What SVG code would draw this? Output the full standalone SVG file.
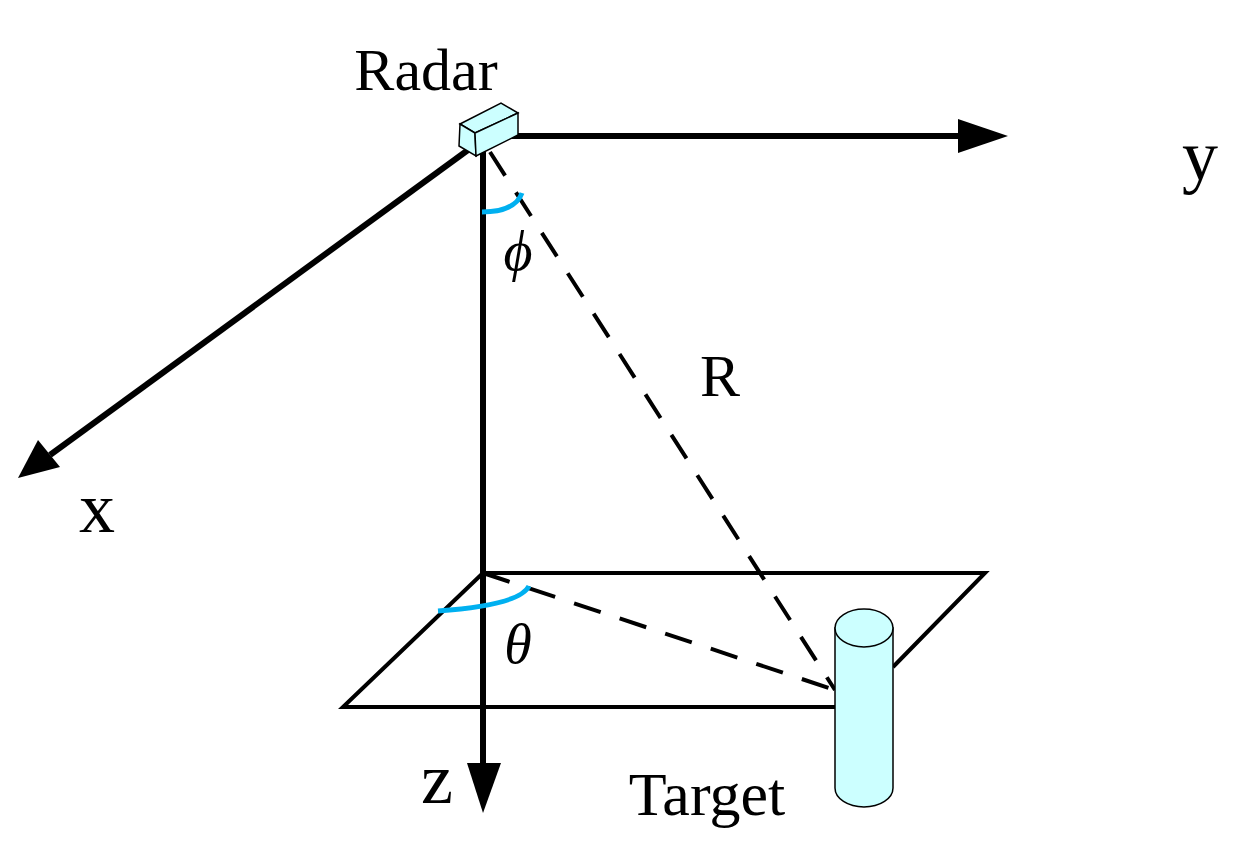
<svg xmlns="http://www.w3.org/2000/svg" width="1245" height="852" viewBox="0 0 1245 852">
<style>
.ax{stroke:#000;stroke-width:6;fill:none}
.ln{stroke:#000;stroke-width:4;fill:none}
.ds{stroke:#000;stroke-width:4;fill:none;stroke-dasharray:28,20}
.arc{stroke:#00b0f0;stroke-width:5;fill:none}
.obj{fill:#ccffff;stroke:#000;stroke-width:1.5}
text{font-family:"Liberation Serif",serif;fill:#000}
</style>
<rect width="1245" height="852" fill="#fff"/>
<g id="plane"><path class="ln" d="M483,573 L985,573 L893,667 M483,573 L343,707 L838,707"/></g>
<g id="connectors">
<line class="ax" x1="483" y1="150" x2="483" y2="765"/>
<polygon points="467,763 501,763 483,813"/>
<line class="ax" x1="505" y1="136" x2="960" y2="136"/>
<polygon points="958,119 958,153 1008,136"/>
<line class="ax" x1="468" y1="150" x2="50" y2="455"/>
<polygon points="38,440 60,467 18,478"/>
<line class="ds" x1="490" y1="152" x2="835" y2="690"/>
<line class="ds" x1="483" y1="573" x2="835" y2="690"/>
<path class="arc" d="M482,212 Q515,212 522,193"/>
<path class="arc" d="M438,611 Q520,605 529,586"/>
</g>
<g id="radar">
<polygon class="obj" points="460,124 501,103 518,113 475,133"/>
<polygon class="obj" points="460,124 475,133 476,156 459,146"/>
<polygon class="obj" points="475,133 518,113 518,135 476,156"/>
<text x="426" y="90" font-size="60" text-anchor="middle">Radar</text>
</g>
<g id="target">
<path class="obj" d="M835,628 L835,788 A29,19 0 0 0 893,788 L893,628 Z"/>
<ellipse class="obj" cx="864" cy="628" rx="29" ry="19"/>
<text x="707" y="815" font-size="62" text-anchor="middle">Target</text>
</g>
<g id="labels">
<text x="1200" y="180" font-size="72" text-anchor="middle">y</text>
<text x="97" y="532" font-size="72" text-anchor="middle">x</text>
<text x="437" y="803" font-size="72" text-anchor="middle">z</text>
<text x="720" y="396" font-size="60" text-anchor="middle">R</text>
<text x="518" y="270" font-size="56" font-style="italic" text-anchor="middle">ϕ</text>
<text x="518" y="663" font-size="56" font-style="italic" text-anchor="middle">θ</text>
</g>
</svg>
